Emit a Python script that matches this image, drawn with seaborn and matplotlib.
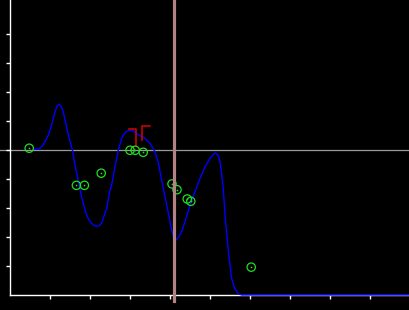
import matplotlib
matplotlib.use("Agg")
import matplotlib.pyplot as plt
import seaborn as sns
import pandas as pd

# blue curve
curve_x = [0.58, 0.68, 0.75, 0.82, 0.875, 0.96, 1.04, 1.125, 1.18, 1.23, 1.28, 1.33, 1.42, 1.5,
           1.56, 1.625, 1.71, 1.79, 1.875, 1.94, 2.0, 2.08, 2.17, 2.23, 2.29, 2.375, 2.42, 2.48,
           2.54, 2.625, 2.71, 2.79, 2.875, 2.96, 3.02, 3.08, 3.15, 3.21, 3.29, 3.375, 3.5, 3.625,
           3.71, 3.79, 3.875, 3.96, 4.04, 4.09, 4.15, 4.21, 4.29, 4.375, 4.5, 4.625, 4.75, 4.875,
           5.0, 5.07, 5.14, 5.2, 5.25, 5.29, 5.33, 5.39, 5.46, 5.54, 5.6, 5.67, 5.73, 5.79, 10.0]
curve_y = [0.02, 0.03, 0.06, 0.15, 0.29, 0.52, 0.86, 1.32, 1.52, 1.58, 1.50, 1.32, 0.75, 0.29,
           0.0, -0.52, -1.09, -1.61, -2.07, -2.32, -2.47, -2.58, -2.64, -2.61, -2.53, -2.18, -2.01, -1.49,
           -1.21, -0.58, 0.0, 0.40, 0.60, 0.67, 0.68, 0.66, 0.60, 0.52, 0.47, 0.40, 0.23, -0.06,
           -0.46, -1.03, -1.61, -2.18, -2.76, -3.0, -3.10, -3.02, -2.82, -2.47, -1.90, -1.44, -0.98, -0.58,
           -0.29, -0.17, -0.10, -0.18, -0.40, -0.80, -1.32, -2.47, -3.51, -4.42, -4.72, -4.89, -4.97, -5.0, -5.0]

# green points
pts_x = [0.48, 1.66, 1.86, 2.28, 3.0, 3.13, 3.33, 4.05, 4.175, 4.43, 4.52, 6.03]
pts_y = [0.06, -1.22, -1.22, -0.80, -0.01, -0.01, -0.08, -1.17, -1.37, -1.69, -1.77, -4.04]

# red step marks
red_a_x = [2.97, 3.16, 3.16]
red_a_y = [0.72, 0.72, 0.14]
red_b_x = [3.3, 3.3, 3.5]
red_b_y = [0.34, 0.83, 0.83]

vline_x = 4.11
hline_y = 0.0
x_ticks = [1, 2, 3, 4, 5, 6, 7, 8, 9]
y_ticks = [-4, -3, -2, -1, 0, 1, 2, 3, 4]

fig = plt.figure(figsize=(4.1, 3.1), dpi=100, facecolor="black")
ax = fig.add_axes([10 / 410, 15 / 310, 400 / 410, 295 / 310])
ax.set_facecolor("black")
ax.set_xlim(0, 10)
ax.set_ylim(-5, 5.17)

ax.axhline(hline_y, xmin=-10 / 400, xmax=1, color="#9a9a9a", lw=0.9, clip_on=False, zorder=1)

curve = pd.DataFrame({"x": curve_x, "y": curve_y})
sns.lineplot(data=curve, x="x", y="y", sort=False, estimator=None, color="#0000ff", lw=1.0,
             ax=ax, clip_on=False, zorder=3)

sns.lineplot(x=red_a_x, y=red_a_y, sort=False, estimator=None, color="#cc0000", lw=1.2,
             ax=ax, zorder=4)
sns.lineplot(x=red_b_x, y=red_b_y, sort=False, estimator=None, color="#cc0000", lw=1.2,
             ax=ax, zorder=4)

pts = pd.DataFrame({"x": pts_x, "y": pts_y})
sns.scatterplot(data=pts, x="x", y="y", marker="o", s=36, facecolor="none",
                edgecolor="#22dd22", linewidth=0.9, ax=ax, zorder=5)
sns.scatterplot(data=pts, x="x", y="y", marker="o", s=1.5, color="#22dd22",
                linewidth=0, ax=ax, zorder=5)

ax.axvline(vline_x, ymin=-6 / 295, ymax=1, color="#b48282", lw=2.3, clip_on=False, zorder=6)

for s in ["top", "right"]:
    ax.spines[s].set_visible(False)
for s in ["left", "bottom"]:
    ax.spines[s].set_color("white")
    ax.spines[s].set_linewidth(1.0)
ax.set_xticks(x_ticks)
ax.set_yticks(y_ticks)
ax.set_xticklabels([])
ax.set_yticklabels([])
ax.tick_params(colors="white", length=3, width=1.0, direction="out")
ax.set_xlabel("")
ax.set_ylabel("")
if ax.get_legend():
    ax.get_legend().remove()

fig.savefig("out.png", dpi=100, facecolor="black")
